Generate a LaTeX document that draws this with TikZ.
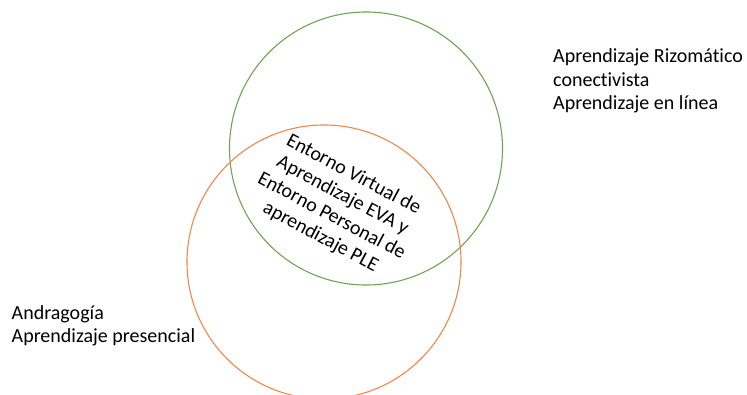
\documentclass[tikz,border=0pt]{standalone}
\usepackage{fontspec}
\setmainfont{Carlito}[Ligatures={NoCommon}]
\tikzset{
  lbl/.style={align=left, inner sep=0pt, font=\fontsize{20}{23.5}\selectfont},
  mid/.style={align=center, inner sep=0pt, font=\fontsize{20}{23.5}\selectfont, rotate=-28},
}
\begin{document}
\begin{tikzpicture}[x=1pt,y=-1pt]
\useasboundingbox (0,0) rectangle (747,395);
\definecolor{vgreen}{RGB}{112,163,82}
\definecolor{vorange}{RGB}{240,135,75}
\draw[vgreen, line width=1.1pt] (366,148.5) circle (136.5);
\draw[vorange, line width=1.1pt] (324,262) circle (137);
\node[mid] (c) at (337,206) {Entorno Virtual de\\Aprendizaje EVA y\\Entorno Personal de\\aprendizaje PLE};
\node[lbl, anchor=base west] (r) at (553,110) {Aprendizaje Rizomático\\conectivista\\Aprendizaje en línea};
\node[lbl, anchor=base west] (l) at (11.5,342.5) {Andragogía\\Aprendizaje presencial};
\end{tikzpicture}
\end{document}
